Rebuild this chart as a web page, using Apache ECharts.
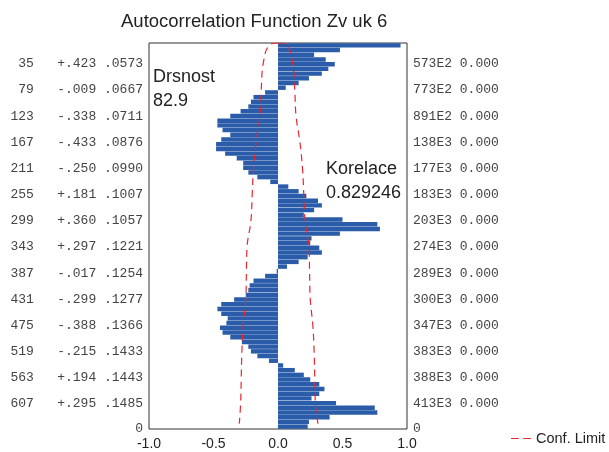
<!DOCTYPE html>
<html><head><meta charset="utf-8">
<script src="https://cdn.jsdelivr.net/npm/echarts@6/dist/echarts.min.js"></script>
<style>html,body{margin:0;padding:0;background:#fff}#c{width:609px;height:452px}</style>
</head><body><div id="c"></div>
<script>
// ---- data ----
const LAG_MAX = 649;
const BAR_STEP = 8;
const barLags = Array.from({length: 82}, (_, i) => i * BAR_STEP);
const acfValues = [
  0.95, 0.48, 0.28, 0.37, 0.44, 0.39, 0.34, 0.24, 0.16, 0.06,
  -0.10, -0.19, -0.21, -0.23, -0.29, -0.37, -0.47, -0.47, -0.43, -0.37,
  -0.44, -0.48, -0.48, -0.41, -0.32, -0.27, -0.27, -0.23, -0.16, -0.06,
  0.08, 0.16, 0.22, 0.31, 0.34, 0.28, 0.20, 0.50, 0.77, 0.79,
  0.48, 0.26, 0.25, 0.32, 0.34, 0.23, 0.16, 0.07, -0.01, -0.10,
  -0.19, -0.22, -0.23, -0.25, -0.34, -0.44, -0.47, -0.44, -0.39, -0.40,
  -0.45, -0.43, -0.37, -0.28, -0.23, -0.21, -0.16, -0.07, 0.04, 0.13,
  0.20, 0.25, 0.32, 0.36, 0.32, 0.26, 0.45, 0.75, 0.77, 0.40,
  0.24, 0.23
];
const labelLags = [35, 79, 123, 167, 211, 255, 299, 343, 387, 431, 475, 519, 563, 607];
const labelAcf = ['+.423','-.009','-.338','-.433','-.250','+.181','+.360','+.297','-.017','-.299','-.388','-.215','+.194','+.295'];
const labelSe = ['.0573','.0667','.0711','.0876','.0990','.1007','.1057','.1221','.1254','.1277','.1366','.1433','.1443','.1485'];
const rightQ = ['573E2','773E2','891E2','138E3','177E3','183E3','203E3','274E3','289E3','300E3','347E3','383E3','388E3','413E3'];
const rightP = ['0.000','0.000','0.000','0.000','0.000','0.000','0.000','0.000','0.000','0.000','0.000','0.000','0.000','0.000'];
const confLags = [0, 4, 35, 79, 123, 167, 211, 255, 299, 343, 387, 431, 475, 519, 563, 607, 640];
const confUpper = [0, 0.07, 0.115, 0.13, 0.14, 0.17, 0.19, 0.20, 0.21, 0.24, 0.245, 0.25, 0.27, 0.28, 0.285, 0.29, 0.31];
const confLower = [0, -0.07, -0.115, -0.13, -0.14, -0.17, -0.19, -0.20, -0.21, -0.24, -0.245, -0.25, -0.27, -0.28, -0.285, -0.29, -0.30];

// ---- chart ----
const chart = echarts.init(document.getElementById('c'), null, {renderer: 'canvas'});
const sans = 'Liberation Sans, Arial, sans-serif';
const mono = 'Liberation Mono, Courier New, monospace';
const pad3 = s => String(s).padStart(3, ' ');

chart.setOption({
  animation: false,
  backgroundColor: '#fff',
  title: {
    text: 'Autocorrelation Function Zv uk 6',
    left: 116, top: 7,
    textStyle: {fontFamily: sans, fontSize: 18.5, fontWeight: 'normal', color: '#222'}
  },
  legend: {
    data: ['Conf. Limit'],
    left: 511, top: 431, padding: 0,
    icon: 'path://M0,0H7V1H0Z M11,0H18V1H11Z',
    itemWidth: 20, itemHeight: 1.5, itemGap: 5,
    textStyle: {fontFamily: sans, fontSize: 14.5, color: '#222'}
  },
  grid: {
    left: 149, right: 202, top: 43, bottom: 23,
    show: true, borderColor: '#333', borderWidth: 1, backgroundColor: 'transparent'
  },
  xAxis: {
    type: 'value', min: -1, max: 1, interval: 0.5,
    axisLine: {show: false}, axisTick: {show: false}, splitLine: {show: false},
    axisLabel: {fontFamily: sans, fontSize: 14, color: '#222', margin: 8,
      formatter: v => v.toFixed(1)}
  },
  yAxis: [
    {type: 'category', data: barLags, inverse: true, show: false, boundaryGap: true},
    {type: 'value', min: 0, max: LAG_MAX, inverse: true, position: 'left',
      axisLine: {show: false}, axisTick: {show: false}, splitLine: {show: false},
      axisLabel: {
        customValues: labelLags.concat([LAG_MAX]),
        fontFamily: mono, fontSize: 13, color: '#444', margin: 6,
        showMinLabel: true, showMaxLabel: true,
        formatter: v => {
          const i = labelLags.indexOf(v);
          if (i < 0) return '0';
          return pad3(labelLags[i]) + '   ' + labelAcf[i] + ' ' + labelSe[i];
        }
      }},
    {type: 'value', min: 0, max: LAG_MAX, inverse: true, position: 'right',
      axisLine: {show: false}, axisTick: {show: false}, splitLine: {show: false},
      axisLabel: {
        customValues: labelLags.concat([LAG_MAX]),
        fontFamily: mono, fontSize: 13, color: '#444', margin: 6,
        showMinLabel: true, showMaxLabel: true,
        formatter: v => {
          const i = labelLags.indexOf(v);
          if (i < 0) return '0';
          return rightQ[i] + ' ' + rightP[i];
        }
      }}
  ],
  series: [
    {type: 'bar', name: 'ACF', xAxisIndex: 0, yAxisIndex: 0,
      data: acfValues, barCategoryGap: '6%',
      itemStyle: {color: '#2a5caa'}},
    {type: 'line', name: 'Conf. Limit', xAxisIndex: 0, yAxisIndex: 1,
      data: confUpper.map((v, i) => [v, confLags[i]]),
      smooth: 0.4, symbol: 'none',
      lineStyle: {color: '#e8262d', width: 1.2, type: [7, 5]}, itemStyle: {color: '#e8262d'}},
    {type: 'line', name: 'Conf. Limit', xAxisIndex: 0, yAxisIndex: 1,
      data: confLower.map((v, i) => [v, confLags[i]]),
      smooth: 0.4, symbol: 'none',
      lineStyle: {color: '#e8262d', width: 1.2, type: [7, 5]}, itemStyle: {color: '#e8262d'}}
  ],
  graphic: [
    {type: 'text', left: 153, top: 68, style: {text: 'Drsnost', fontFamily: sans, fontSize: 18, fill: '#222'}},
    {type: 'text', left: 153, top: 92, style: {text: '82.9', fontFamily: sans, fontSize: 18, fill: '#222'}},
    {type: 'text', left: 326, top: 160, style: {text: 'Korelace', fontFamily: sans, fontSize: 18, fill: '#222'}},
    {type: 'text', left: 326, top: 184, style: {text: '0.829246', fontFamily: sans, fontSize: 18, fill: '#222'}}
  ]
});
</script></body></html>
